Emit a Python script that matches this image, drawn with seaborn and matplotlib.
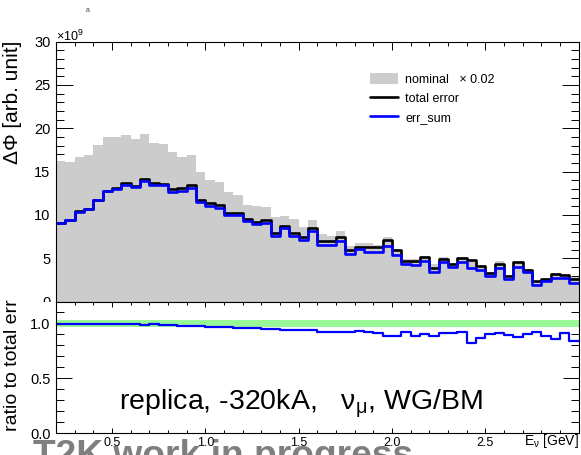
import numpy as np
import pandas as pd
import matplotlib
matplotlib.use("Agg")
import matplotlib.pyplot as plt
from matplotlib.patches import Patch, Rectangle
from matplotlib.lines import Line2D
from matplotlib.ticker import MultipleLocator, FormatStrFormatter
import seaborn as sns

# Neutrino energy binning [GeV]: 56 bins of 0.05 GeV
bin_edges = [round(v, 2) for v in np.linspace(0.2, 3.0, 57)]

# Nominal flux scaled by 0.02 (units of 1e9)
nominal_scaled = [16.27, 16.15, 16.64, 16.89, 18.08, 18.97, 18.97, 19.23, 18.77, 19.31,
                  18.35, 18.14, 17.31, 16.73, 16.93, 14.91, 14.04, 13.85, 12.60, 12.28,
                  11.16, 11.04, 10.87, 9.71, 9.85, 9.48, 8.65, 9.43, 7.78, 7.62,
                  8.16, 6.43, 6.74, 6.72, 6.48, 7.43, 6.05, 4.85, 4.85, 5.20,
                  4.35, 5.10, 4.50, 5.10, 4.85, 4.25, 3.40, 4.69, 3.10, 4.65,
                  3.75, 2.40, 2.70, 3.30, 3.16, 2.88]

# Total flux error (units of 1e9)
total_error = [9.10, 9.45, 10.40, 10.68, 11.75, 12.75, 13.07, 13.70, 13.35, 14.13,
               13.70, 13.58, 12.97, 13.15, 13.46, 11.73, 11.35, 11.16, 10.27, 10.27,
               9.51, 9.14, 9.43, 7.89, 8.77, 7.96, 7.47, 8.47, 7.00, 7.00,
               7.43, 5.97, 6.35, 6.25, 6.25, 7.15, 5.93, 4.70, 4.70, 5.12,
               3.85, 4.96, 4.35, 5.01, 4.81, 4.15, 3.28, 4.35, 2.97, 4.55,
               3.66, 2.31, 2.58, 3.20, 3.08, 2.65]

# Quadrature sum of the individual error sources (units of 1e9)
err_sum = [9.05, 9.43, 10.38, 10.66, 11.73, 12.72, 13.04, 13.46, 13.20, 13.93,
           13.46, 13.43, 12.69, 12.81, 13.15, 11.54, 11.08, 10.78, 10.00, 10.00,
           9.25, 8.93, 9.05, 7.62, 8.47, 7.62, 7.15, 8.16, 6.48, 6.48,
           7.04, 5.45, 6.05, 5.77, 5.77, 6.43, 5.35, 4.38, 4.20, 4.62,
           3.46, 4.52, 4.00, 4.55, 3.92, 3.66, 2.97, 3.92, 2.62, 4.04,
           3.46, 1.93, 2.31, 2.77, 2.77, 2.19]

# err_sum / total error
ratio_to_total = [0.994, 0.999, 0.999, 0.999, 0.999, 0.997, 0.997, 0.997, 0.991, 0.985,
                  0.991, 0.982, 0.982, 0.975, 0.975, 0.975, 0.969, 0.969, 0.969, 0.960,
                  0.955, 0.963, 0.951, 0.951, 0.945, 0.945, 0.939, 0.939, 0.924, 0.924,
                  0.924, 0.924, 0.933, 0.920, 0.912, 0.889, 0.889, 0.924, 0.888, 0.900,
                  0.888, 0.909, 0.909, 0.918, 0.818, 0.869, 0.900, 0.909, 0.894, 0.879,
                  0.900, 0.918, 0.885, 0.855, 0.909, 0.842]

band_lo, band_hi = 0.967, 1.033

top_yticks = [0, 5, 10, 15, 20, 25, 30]
bot_yticks = [0.0, 0.5, 1.0]
x_ticks = [0.5, 1.0, 1.5, 2.0, 2.5]

sns.set_theme(style="ticks", rc={
    "xtick.direction": "in", "ytick.direction": "in",
    "axes.linewidth": 0.8, "axes.edgecolor": "black",
    "xtick.color": "black", "ytick.color": "black",
    "text.color": "black", "axes.labelcolor": "black",
})
plt.rcParams["font.family"] = ["Liberation Sans", "DejaVu Sans"]
plt.rcParams["mathtext.fontset"] = "custom"
plt.rcParams["mathtext.rm"] = "Liberation Sans"
plt.rcParams["mathtext.it"] = "Liberation Sans:italic"

W, H = 581, 455
fig = plt.figure(figsize=(W / 100, H / 100), dpi=100)


def fx(px):
    return px / W


def fy(py):
    return 1 - py / H


x0, x1 = 56, 578.7
y_top, y_mid, y_bot = 41.7, 301.5, 433.3

ax_top = fig.add_axes([fx(x0), fy(y_mid), fx(x1) - fx(x0), fy(y_top) - fy(y_mid)])
ax_bot = fig.add_axes([fx(x0), fy(y_bot), fx(x1) - fx(x0), fy(y_mid) - fy(y_bot)])
ax_top.set_zorder(1)
ax_bot.set_zorder(3)
# lower pad background, hides whatever of the upper pad spills below it
fig.add_artist(Rectangle((0, 0), 1, fy(y_mid), transform=fig.transFigure,
                         facecolor="white", edgecolor="none", zorder=2))

centers = [(a + b) / 2 for a, b in zip(bin_edges[:-1], bin_edges[1:])]
flux = pd.DataFrame({"E": centers, "nominal": nominal_scaled, "total": total_error,
                     "sum": err_sum, "ratio": ratio_to_total})

# upper pad: flux and errors
sns.histplot(data=flux, x="E", weights="nominal", bins=bin_edges, element="step",
             fill=True, color="#cccccc", alpha=1.0, linewidth=0, ax=ax_top)
sns.histplot(data=flux, x="E", weights="total", bins=bin_edges, element="step",
             fill=False, color="black", linewidth=1.9, ax=ax_top)
sns.histplot(data=flux, x="E", weights="sum", bins=bin_edges, element="step",
             fill=False, color="#0000ff", linewidth=1.9, ax=ax_top)

ax_top.set_xlim(bin_edges[0], bin_edges[-1])
ax_top.set_ylim(0, 30)
ax_top.set_yticks(top_yticks)
ax_top.yaxis.set_minor_locator(MultipleLocator(1))
ax_top.xaxis.set_major_locator(MultipleLocator(0.5))
ax_top.xaxis.set_minor_locator(MultipleLocator(0.1))
ax_top.tick_params(axis="y", which="both", left=True, right=True, labelsize=10.5,
                   width=0.7, pad=4.0)
ax_top.tick_params(axis="y", which="major", length=12)
ax_top.tick_params(axis="y", which="minor", length=5.8)
ax_top.tick_params(axis="x", which="both", bottom=False, top=True, labelbottom=False,
                   width=0.7)
ax_top.tick_params(axis="x", which="major", length=5.8)
ax_top.tick_params(axis="x", which="minor", length=2.9)
ax_top.set_xlabel("")
ax_top.set_ylabel("\u0394\u03a6 [arb. unit]", fontsize=15)
ax_top.yaxis.set_label_coords((12.5 - x0) / (x1 - x0), 1.006)
ax_top.yaxis.label.set_ha("right")
ax_top.yaxis.label.set_va("center")
fig.text(fx(56), fy(41), r"$\mathregular{\times10^{9}}$", fontsize=9,
         ha="left", va="baseline")

handles = [Patch(facecolor="#cccccc", edgecolor="none"),
           Line2D([], [], color="black", lw=1.9),
           Line2D([], [], color="#0000ff", lw=1.9)]
labels = ["nominal   \u00d7 0.02", "total error", "err_sum"]
ax_top.legend(handles, labels, loc="upper left", bbox_to_anchor=(fx(370), fy(73)),
              bbox_transform=fig.transFigure, frameon=False, fontsize=9,
              handlelength=2.25, handleheight=1.0, handletextpad=0.55,
              labelspacing=0.5, borderpad=0, borderaxespad=0)

# lower pad: ratio
ax_bot.axhspan(band_lo, band_hi, color="#98f898", lw=0, zorder=1)
sns.histplot(data=flux, x="E", weights="ratio", bins=bin_edges, element="step",
             fill=False, color="#0000ff", linewidth=1.6, ax=ax_bot)
ax_bot.set_xlim(bin_edges[0], bin_edges[-1])
ax_bot.set_ylim(0, 1.2)
ax_bot.set_yticks(bot_yticks)
ax_bot.yaxis.set_minor_locator(MultipleLocator(0.1))
ax_bot.yaxis.set_major_formatter(FormatStrFormatter("%.1f"))
ax_bot.set_xticks(x_ticks)
ax_bot.xaxis.set_minor_locator(MultipleLocator(0.1))
ax_bot.xaxis.set_major_formatter(FormatStrFormatter("%.1f"))
ax_bot.tick_params(axis="y", which="both", left=True, right=True, labelsize=10.5,
                   width=0.7, pad=4.0)
ax_bot.tick_params(axis="y", which="major", length=11.5)
ax_bot.tick_params(axis="y", which="minor", length=5.8)
ax_bot.tick_params(axis="x", which="both", bottom=True, top=True, labelsize=9,
                   width=0.7, pad=2.6)
ax_bot.tick_params(axis="x", which="major", length=3.6)
ax_bot.tick_params(axis="x", which="minor", length=2.2)
ax_bot.set_ylabel("ratio to total err", fontsize=14)
ax_bot.yaxis.set_label_coords((13 - x0) / (x1 - x0), 1.017)
ax_bot.yaxis.label.set_ha("right")
ax_bot.yaxis.label.set_va("center")
ax_bot.set_xlabel(r"$\mathregular{E_{\nu}}$ [GeV]", fontsize=10)
ax_bot.xaxis.set_label_coords(1.0, -0.058)
ax_bot.xaxis.label.set_ha("right")
ax_bot.xaxis.label.set_va("center")

ax_bot.text((301 - x0) / (x1 - x0), (y_bot - 410) / (y_bot - y_mid),
            r"replica, -320kA,   $\mathregular{\nu_{\mu}}$, WG/BM",
            transform=ax_bot.transAxes, fontsize=20.5, ha="center", va="baseline")

fig.text(fx(33), fy(466), "T2K work in progress", fontsize=26.7, fontweight="bold",
         color="#7f7f7f", ha="left", va="baseline", zorder=2.5)
fig.text(fx(88), fy(12), "a", fontsize=5, color="#444444", ha="center", va="baseline")

for ax in (ax_top, ax_bot):
    for sp in ax.spines.values():
        sp.set_linewidth(0.8)
        sp.set_color("black")

fig.savefig("out.png", dpi=100)
